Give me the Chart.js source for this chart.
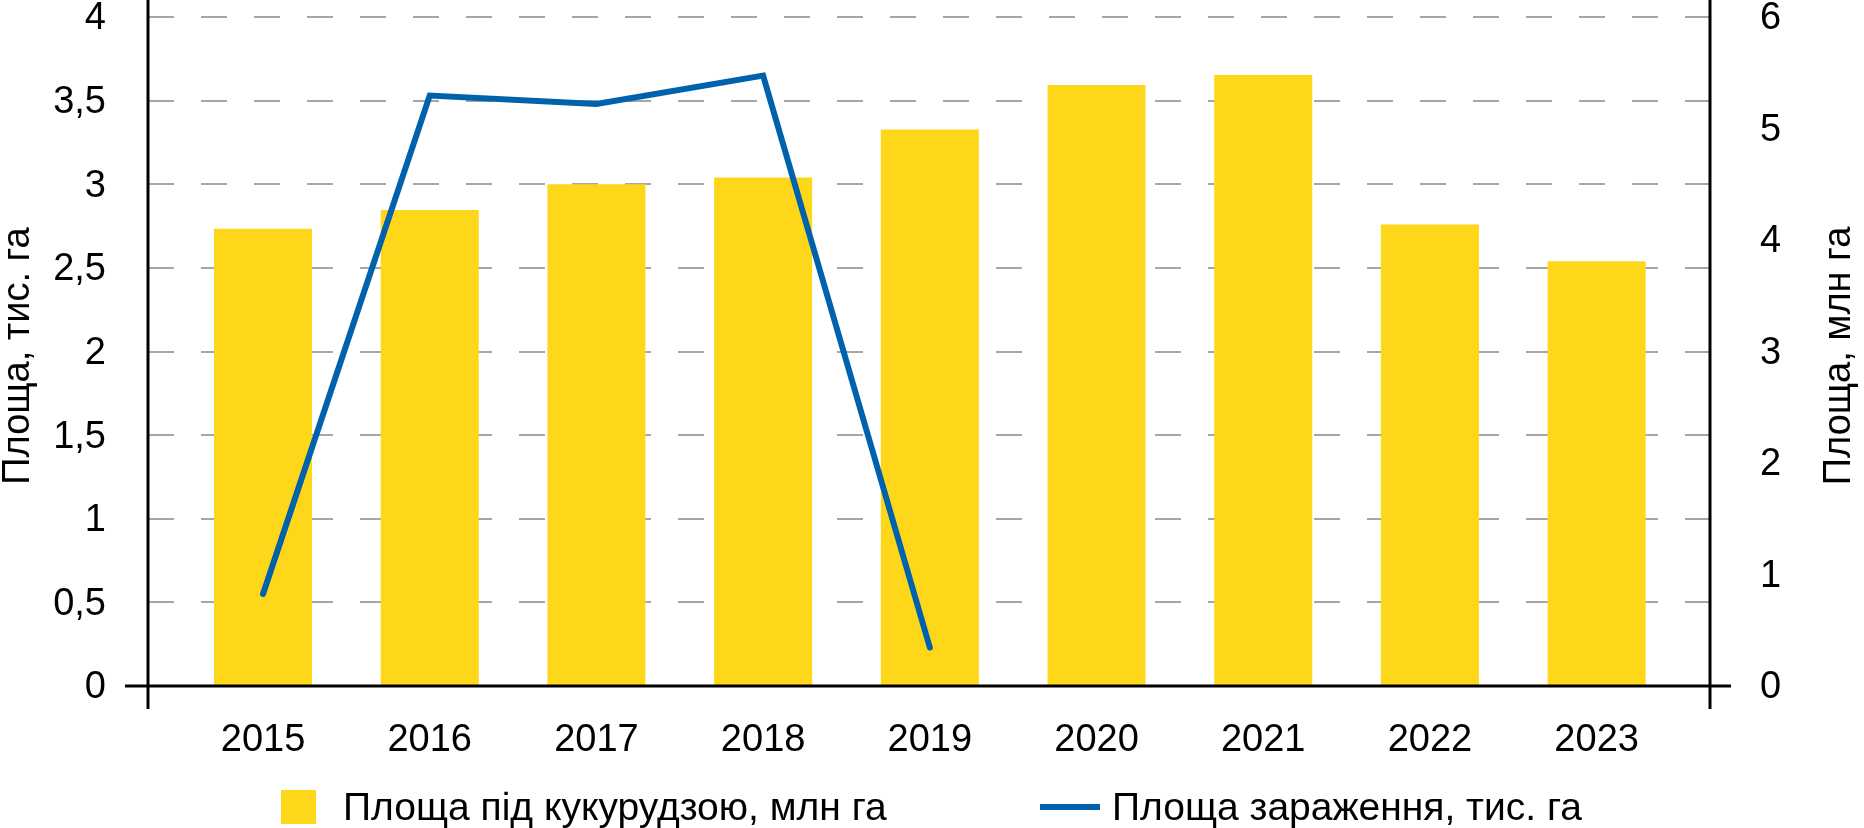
<!DOCTYPE html>
<html lang="uk">
<head>
<meta charset="utf-8">
<title>Площа під кукурудзою та площа зараження</title>
<script src="https://cdn.jsdelivr.net/npm/chart.js@4.4.1/dist/chart.umd.min.js"></script>
<style>
  html, body { margin: 0; padding: 0; background: #fff; }
  #wrap { position: relative; width: 1864px; height: 828px; }
</style>
</head>
<body>
<div id="wrap"><canvas id="chart"></canvas></div>
<script>
// Data
const years = [2015, 2016, 2017, 2018, 2019, 2020, 2021, 2022, 2023];
const cornArea = [4.10, 4.27, 4.50, 4.56, 4.99, 5.39, 5.48, 4.14, 3.81]; // млн га, right axis
const infectedYears = [2015, 2016, 2017, 2018, 2019];
const infectedArea = [0.55, 3.53, 3.48, 3.65, 0.23]; // тис. га, left axis
const leftTicks = [0, 0.5, 1, 1.5, 2, 2.5, 3, 3.5, 4];
const rightTicks = [0, 1, 2, 3, 4, 5, 6];

const FONT = '"Liberation Sans", Arial, sans-serif';
const YELLOW = "#FED61A";
const BLUE = "#0062AC";

// axis lines, axis titles and legend drawn on top of the chart
const decorPlugin = {
  id: "decor",
  afterDraw: function (chart) {
    const ctx = chart.ctx;
    const area = chart.chartArea;
    const y0 = chart.scales.yLeft.getPixelForValue(0);
    ctx.save();
    ctx.strokeStyle = "#000";
    ctx.lineWidth = 3;
    ctx.beginPath();
    ctx.moveTo(area.left, 0);
    ctx.lineTo(area.left, y0 + 23);
    ctx.moveTo(area.right, 0);
    ctx.lineTo(area.right, y0 + 23);
    ctx.moveTo(area.left - 23, y0);
    ctx.lineTo(area.right + 21, y0);
    ctx.stroke();

    // axis titles
    ctx.fillStyle = "#000";
    ctx.font = "38px " + FONT;
    ctx.textAlign = "center";
    ctx.textBaseline = "middle";
    const titles = [
      { text: "Площа, тис. га", x: 19 },
      { text: "Площа, млн га", x: 1840 },
    ];
    titles.forEach(function (t) {
      ctx.save();
      ctx.translate(t.x, 356);
      ctx.rotate(-Math.PI / 2);
      ctx.fillText(t.text, 0, 0);
      ctx.restore();
    });

    // legend
    const bar = chart.data.datasets[0];
    const line = chart.data.datasets[1];
    const ly = 807;
    ctx.fillStyle = bar.backgroundColor;
    ctx.fillRect(281, ly - 17, 35, 34);
    ctx.strokeStyle = line.borderColor;
    ctx.lineWidth = 6;
    ctx.beginPath();
    ctx.moveTo(1040, ly);
    ctx.lineTo(1100, ly);
    ctx.stroke();
    ctx.fillStyle = "#000";
    ctx.font = "39px " + FONT;
    ctx.textAlign = "left";
    ctx.fillText(bar.label, 343, ly + 2);
    ctx.fillText(line.label, 1112, ly + 2);
    ctx.restore();
  },
};

new Chart(document.getElementById("chart"), {
  type: "bar",
  data: {
    datasets: [
      {
        type: "bar",
        label: "Площа під кукурудзою, млн га",
        data: years.map((y, i) => ({ x: y, y: cornArea[i] })),
        backgroundColor: YELLOW,
        borderWidth: 0,
        categoryPercentage: 1,
        barPercentage: 0.588,
        yAxisID: "yRight",
        order: 1,
      },
      {
        type: "line",
        label: "Площа зараження, тис. га",
        data: infectedYears.map((y, i) => ({ x: y, y: infectedArea[i] })),
        borderColor: BLUE,
        backgroundColor: BLUE,
        borderWidth: 6,
        borderCapStyle: "round",
        borderJoinStyle: "miter",
        pointRadius: 0,
        tension: 0,
        yAxisID: "yLeft",
        order: 0,
      },
    ],
  },
  options: {
    responsive: true,
    maintainAspectRatio: false,
    animation: false,
    devicePixelRatio: 1,
    layout: { padding: { top: 17, left: 0, right: 0, bottom: 0 } },
    plugins: {
      legend: { display: false },
      tooltip: { enabled: false },
      title: { display: false },
    },
    scales: {
      x: {
        type: "linear",
        offset: false,
        min: 2014.31,
        max: 2023.68,
        grid: { display: false, offset: false },
        border: { display: false },
        afterBuildTicks: function (scale) {
          scale.ticks = years.map((v) => ({ value: v }));
        },
        afterFit: function (scale) {
          scale.height = 142;
          scale.paddingLeft = 0;
          scale.paddingRight = 0;
        },
        ticks: {
          color: "#000",
          font: { family: FONT, size: 38 },
          padding: 24,
          maxRotation: 0,
          autoSkip: false,
          callback: (v) => String(v),
        },
      },
      yLeft: {
        type: "linear",
        position: "left",
        min: 0,
        max: 4,
        afterBuildTicks: function (scale) {
          scale.ticks = leftTicks.map((v) => ({ value: v }));
        },
        afterFit: function (scale) {
          scale.width = 148;
          scale.paddingTop = 0;
          scale.paddingBottom = 0;
        },
        grid: {
          color: "#A6A6A6",
          lineWidth: 2,
          drawTicks: false,
        },
        border: { display: false, dash: [26, 27] },
        ticks: {
          color: "#000",
          font: { family: FONT, size: 38 },
          padding: 42,
          labelOffset: 2,
          callback: (v) => String(v).replace(".", ","),
        },
      },
      yRight: {
        type: "linear",
        position: "right",
        min: 0,
        max: 6,
        afterBuildTicks: function (scale) {
          scale.ticks = rightTicks.map((v) => ({ value: v }));
        },
        afterFit: function (scale) {
          scale.width = 154;
          scale.paddingTop = 0;
          scale.paddingBottom = 0;
        },
        grid: { display: false, drawTicks: false },
        border: { display: false },
        ticks: {
          color: "#000",
          font: { family: FONT, size: 38 },
          padding: 50,
          labelOffset: 2,
          callback: (v) => String(v),
        },
      },
    },
  },
  plugins: [decorPlugin],
});
</script>
</body>
</html>
